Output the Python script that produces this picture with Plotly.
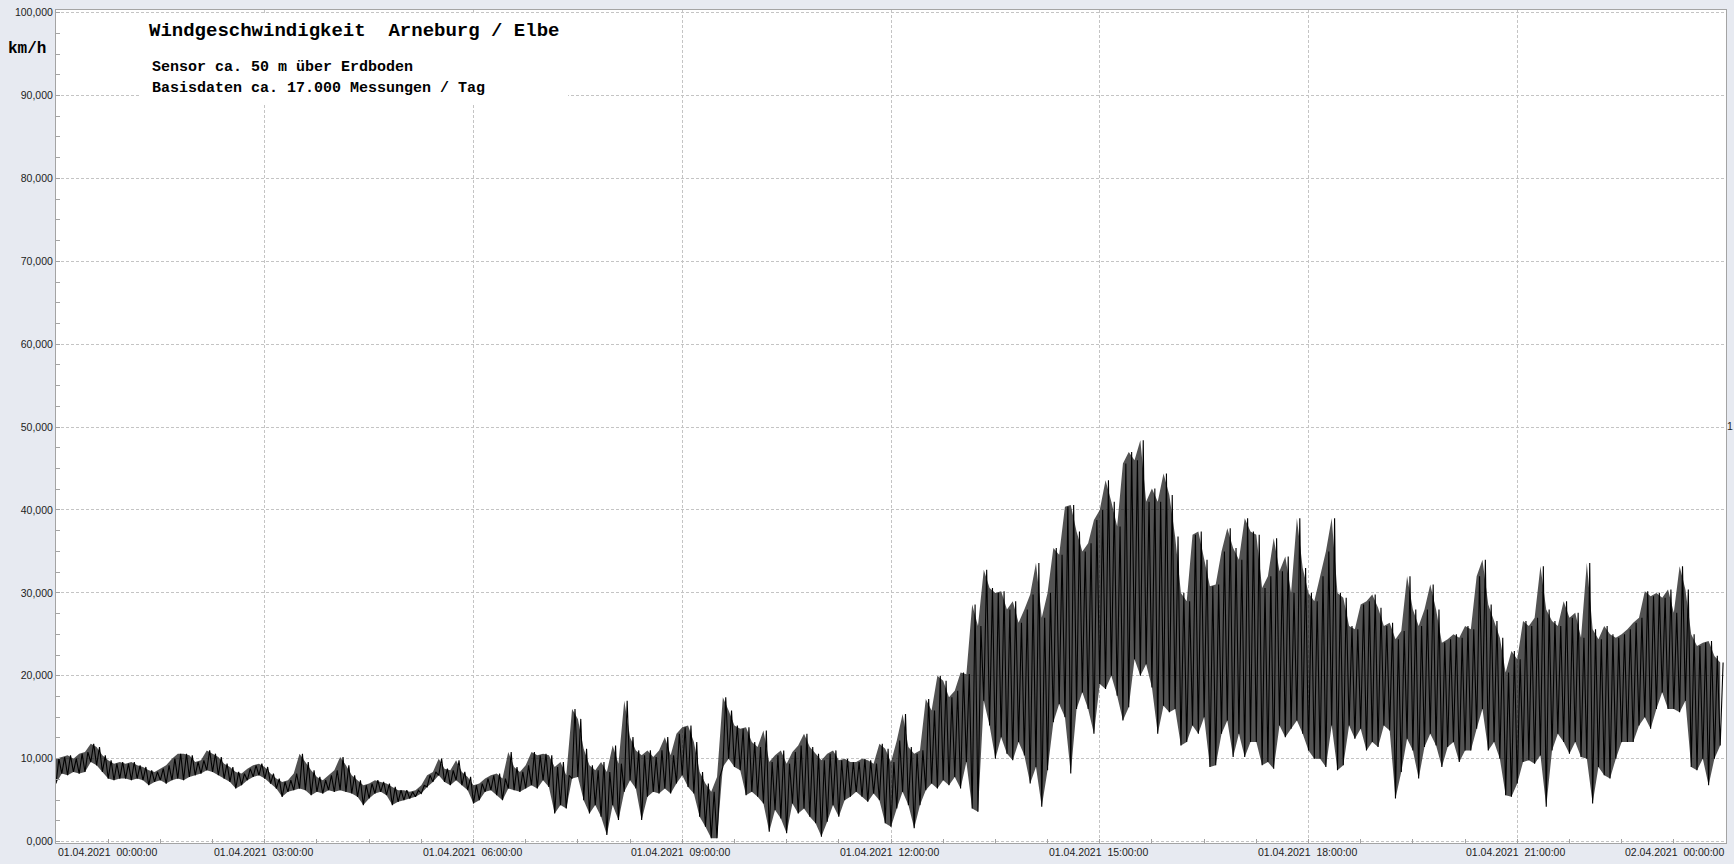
import pandas as pd
import plotly.graph_objects as go

# ---- data: 5-minute buckets, lower / upper extent of the wind speed trace (km/h) ----
lo_kmh = [
    7.0, 8.2, 8.0, 8.4, 8.2, 8.4, 9.6, 9.2, 8.4, 7.6, 7.4, 7.6,
    7.6, 7.4, 7.6, 7.4, 6.8, 7.2, 7.4, 7.0, 7.4, 7.6, 7.4, 7.8,
    8.0, 8.2, 8.6, 8.4, 8.0, 7.6, 7.2, 6.4, 6.8, 7.4, 7.8, 8.0,
    7.6, 7.0, 6.4, 5.4, 6.0, 6.2, 6.4, 6.2, 5.6, 6.0, 5.8, 6.2,
    6.0, 6.2, 6.0, 5.8, 5.4, 4.4, 5.2, 5.8, 6.0, 5.6, 4.4, 4.8,
    5.0, 5.2, 5.4, 5.8, 6.6, 7.2, 8.0, 7.2, 6.8, 7.4, 6.8, 6.2,
    4.6, 5.0, 6.0, 6.2, 5.6, 5.0, 6.4, 6.2, 6.0, 6.4, 6.8, 6.4,
    7.4, 6.6, 3.4, 4.4, 4.0, 7.6, 7.8, 5.0, 3.4, 4.4, 3.0, 0.8,
    4.4, 2.6, 6.0, 7.4, 6.4, 2.6, 5.4, 6.0, 5.8, 6.4, 5.8, 7.0,
    8.0, 6.6, 5.8, 3.0, 1.8, 0.4, 0.4, 9.0, 10.0, 9.0, 8.6, 5.6,
    6.0, 5.4, 4.6, 1.2, 3.8, 2.8, 1.0, 4.6, 3.4, 4.0, 3.0, 2.2,
    0.6, 2.4, 4.4, 3.0, 5.0, 5.4, 6.0, 5.4, 4.8, 5.8, 5.0, 2.2,
    1.8, 4.0, 6.0, 4.4, 1.6, 4.4, 6.2, 7.0, 6.4, 7.4, 6.8, 7.8,
    6.4, 9.6, 4.0, 3.6, 17.0, 14.0, 10.0, 12.6, 10.6, 9.8, 12.0, 10.4,
    7.0, 9.0, 4.2, 8.6, 14.4, 16.6, 15.0, 8.2, 16.0, 18.0, 16.0, 13.0,
    19.0, 18.4, 20.0, 17.6, 14.6, 16.2, 22.0, 20.0, 21.4, 18.6, 13.0, 16.4,
    15.6, 16.0, 11.6, 12.0, 14.0, 13.0, 15.0, 9.0, 9.2, 13.0, 14.6, 10.2,
    13.0, 10.2, 12.0, 12.0, 9.2, 9.6, 8.8, 14.0, 12.6, 13.6, 14.6, 13.0,
    11.0, 10.0, 10.0, 9.0, 14.0, 8.6, 9.2, 14.0, 12.4, 13.6, 11.0, 12.0,
    11.4, 14.0, 13.4, 5.2, 8.4, 12.4, 11.0, 7.6, 11.4, 13.0, 11.6, 9.0,
    11.4, 12.0, 9.6, 11.0, 11.0, 13.6, 16.0, 11.0, 12.0, 10.0, 5.6, 5.4,
    7.0, 9.6, 9.8, 9.4, 10.4, 4.2, 11.0, 13.0, 12.0, 10.6, 12.0, 10.2,
    10.0, 4.6, 9.0, 8.0, 7.6, 10.0, 12.0, 12.0, 12.0, 14.0, 15.0, 13.6,
    16.0, 18.0, 16.0, 16.0, 15.6, 17.0, 9.0, 8.6, 10.0, 6.8, 10.0, 11.6,
]
hi_kmh = [
    10.0, 10.2, 10.4, 10.0, 10.6, 10.8, 11.8, 11.4, 10.4, 9.8, 9.4, 9.6,
    9.4, 9.6, 9.2, 9.0, 8.6, 8.4, 8.8, 9.2, 10.0, 10.6, 10.6, 10.4,
    9.6, 9.8, 11.0, 10.6, 10.2, 9.4, 9.0, 8.4, 8.2, 8.8, 9.2, 9.4,
    9.0, 8.2, 7.6, 7.2, 7.4, 8.2, 10.6, 9.6, 8.6, 7.8, 7.4, 8.0,
    8.6, 10.2, 9.2, 8.0, 7.4, 6.8, 7.0, 7.4, 7.2, 7.0, 6.6, 6.2,
    6.2, 6.0, 6.2, 6.8, 8.0, 8.4, 10.0, 8.8, 8.6, 9.8, 8.4, 7.8,
    6.8, 7.0, 7.6, 8.0, 8.2, 7.6, 10.8, 9.0, 8.4, 9.2, 10.8, 10.4,
    10.6, 10.4, 9.0, 9.6, 8.0, 16.0, 14.8, 11.2, 9.2, 8.6, 9.6, 8.4,
    11.6, 9.4, 17.0, 12.6, 11.0, 10.4, 11.0, 10.2, 11.0, 12.6, 10.4, 13.0,
    13.8, 14.0, 12.0, 8.4, 7.0, 6.0, 7.8, 17.4, 15.8, 14.0, 13.6, 13.8,
    12.0, 11.4, 13.4, 9.6, 10.4, 11.0, 9.4, 10.8, 11.6, 13.0, 11.4, 10.6,
    9.8, 10.6, 11.0, 9.8, 10.0, 9.6, 9.6, 10.0, 9.8, 9.4, 11.8, 11.2,
    9.6, 12.2, 15.4, 11.4, 10.6, 11.0, 17.2, 15.8, 20.0, 19.4, 17.4, 18.2,
    20.4, 20.2, 28.6, 26.0, 32.8, 30.6, 30.0, 30.2, 28.0, 29.0, 26.4, 28.0,
    29.8, 33.6, 27.0, 30.0, 35.4, 34.6, 40.4, 40.6, 37.4, 35.0, 36.0, 38.8,
    40.0, 43.6, 41.0, 38.0, 45.6, 47.0, 46.0, 48.4, 41.0, 42.6, 41.0, 44.4,
    41.8, 36.8, 30.0, 29.0, 37.0, 37.4, 34.0, 30.8, 31.0, 35.0, 37.8, 35.4,
    34.0, 39.0, 37.4, 37.0, 30.6, 32.0, 36.6, 32.6, 34.4, 30.0, 39.0, 33.0,
    30.0, 29.0, 32.0, 35.0, 39.0, 30.0, 29.4, 26.0, 25.6, 28.6, 29.0, 29.8,
    28.2, 26.0, 26.4, 24.4, 25.4, 32.0, 28.0, 26.0, 28.0, 31.0, 28.0, 24.0,
    24.4, 25.0, 24.6, 26.0, 25.6, 32.0, 34.0, 28.6, 26.6, 24.6, 20.4, 23.0,
    22.0, 26.6, 26.0, 27.0, 33.2, 28.0, 26.6, 26.0, 29.0, 27.0, 27.6, 24.6,
    33.6, 25.6, 24.4, 26.0, 25.0, 24.6, 25.0, 25.6, 26.4, 27.0, 30.2, 29.6,
    30.0, 29.4, 30.4, 27.6, 33.2, 30.4, 25.0, 23.6, 24.0, 24.2, 22.4, 21.6,
]
y_tickvals = [0, 10, 20, 30, 40, 50, 60, 70, 80, 90, 100]
y_ticktext = ["0,000", "10,000", "20,000", "30,000", "40,000", "50,000",
              "60,000", "70,000", "80,000", "90,000", "100,000"]
x_ticks = pd.date_range("2021-04-01 00:00", "2021-04-02 00:00", freq="3h")
x_ticktext = [t.strftime("%d.%m.%Y") + "\u00a0\u00a0" + t.strftime("%H:%M:%S") for t in x_ticks]

title_text = "Windgeschwindigkeit\u00a0\u00a0Arneburg / Elbe"
sub1_text = "Sensor ca. 50 m über Erdboden"
sub2_text = "Basisdaten ca. 17.000 Messungen / Tag"
unit_text = "km/h"

# ---- build traces ----
times = pd.date_range("2021-04-01 00:00", periods=len(lo_kmh), freq="5min")
xs, ys = [], []
for t, lo, hi in zip(times, lo_kmh, hi_kmh):
    xs += [t, t + pd.Timedelta(seconds=150)]
    ys += [lo, hi]

fig = go.Figure()
# dense core: band between the lower and upper extent
fig.add_trace(go.Scatter(x=times, y=lo_kmh, mode="lines",
                         line=dict(color="rgba(0,0,0,0)", width=0),
                         hoverinfo="skip"))
fig.add_trace(go.Scatter(x=times, y=hi_kmh, mode="lines",
                         line=dict(color="rgba(0,0,0,0)", width=0),
                         fill="tonexty", fillcolor="rgba(15,15,15,0.72)",
                         hoverinfo="skip"))
# the oscillating measurement trace
fig.add_trace(go.Scatter(x=xs, y=ys, mode="lines",
                         line=dict(color="black", width=1.1),
                         hoverinfo="skip"))

grid_col = "#C4C4C4"
axis_col = "#A4A4A4"
tick_font = dict(family="Liberation Sans, Arial, sans-serif", size=10.5, color="#222222")

fig.update_xaxes(
    type="date",
    range=[x_ticks[0], x_ticks[-1]],
    tickvals=list(x_ticks),
    showticklabels=False,
    ticks="inside", ticklen=4, tickcolor=axis_col,
    showgrid=True, gridcolor=grid_col, griddash="3px,2px", gridwidth=1,
    minor=dict(dtick=45 * 60 * 1000, tick0="2021-04-01 00:00", ticks="inside",
               ticklen=4, tickcolor=axis_col, showgrid=False),
    showline=True, linecolor=axis_col, linewidth=1, mirror=True,
    zeroline=False,
)
fig.update_yaxes(
    range=[-0.17, 100.31],
    tickvals=y_tickvals, ticktext=y_ticktext,
    tickfont=tick_font,
    ticks="inside", ticklen=4, tickcolor=axis_col,
    showgrid=True, gridcolor=grid_col, griddash="3px,2px", gridwidth=1,
    minor=dict(dtick=2.5, ticks="inside", ticklen=4, tickcolor=axis_col, showgrid=False),
    showline=True, linecolor=axis_col, linewidth=1, mirror=True,
    zeroline=False,
)

annotations = []
for i, (t, txt) in enumerate(zip(x_ticks, x_ticktext)):
    if i == 0:
        xa, xs_ = "left", 0
    elif i == len(x_ticks) - 1:
        xa, xs_ = "right", 0
    else:
        xa, xs_ = "left", -53
    annotations.append(dict(x=t, xref="x", y=0, yref="paper", text=txt,
                            showarrow=False, xanchor=xa, yanchor="top",
                            xshift=xs_, yshift=-1, font=tick_font))

mono = "Liberation Mono, Courier New, monospace"
annotations += [
    dict(x=0, xref="paper", y=1, yref="paper", text="<b>" + title_text + "</b>",
         showarrow=False, xanchor="left", yanchor="middle", xshift=91, yshift=-21,
         font=dict(family=mono, size=19, color="black")),
    dict(x=0, xref="paper", y=1, yref="paper", text="<b>" + sub1_text + "</b>",
         showarrow=False, xanchor="left", yanchor="middle", xshift=94, yshift=-57,
         font=dict(family=mono, size=15, color="black")),
    dict(x=0, xref="paper", y=1, yref="paper", text="<b>" + sub2_text + "</b>",
         showarrow=False, xanchor="left", yanchor="middle", xshift=94, yshift=-78,
         font=dict(family=mono, size=15, color="black")),
    dict(x=0, xref="paper", y=1, yref="paper", text="<b>" + unit_text + "</b>",
         showarrow=False, xanchor="center", yanchor="middle", xshift=-29, yshift=-39,
         font=dict(family=mono, size=16, color="black")),
    dict(x=1, xref="paper", y=50, yref="y", text="1",
         showarrow=False, xanchor="left", yanchor="middle", xshift=-1, yshift=1,
         font=tick_font),
]

fig.update_layout(
    width=1734, height=864,
    margin=dict(l=56, r=8, t=6, b=21),
    paper_bgcolor="#E7EAF1",
    plot_bgcolor="white",
    showlegend=False,
    annotations=annotations,
    shapes=[dict(type="rect", xref="paper", yref="paper",
                 x0=0.0509, x1=0.3066, y0=0.888, y1=0.9964,
                 fillcolor="white", line=dict(width=0), layer="above")],
)

fig.write_html("out.html",
               config={"displayModeBar": False},
               post_script="document.body.style.margin='0px';"
                           "document.body.style.background='#E7EAF1';"
                           "document.body.style.overflow='hidden';")
